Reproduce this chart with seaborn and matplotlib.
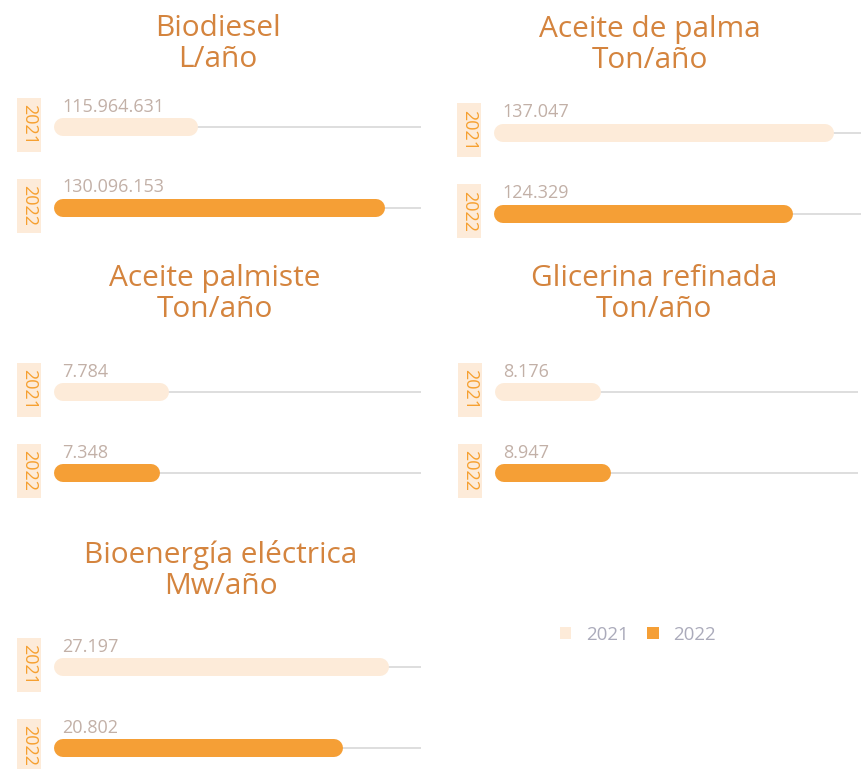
import numpy as np
import pandas as pd
import seaborn as sns
import matplotlib.pyplot as plt
from matplotlib.patches import Rectangle, Patch
from matplotlib.transforms import IdentityTransform

# ---------------- data ----------------
categories = ["Biodiesel", "Aceite de palma", "Aceite palmiste", "Glicerina refinada", "Bioenergía eléctrica"]
units = ["L/año", "Ton/año", "Ton/año", "Ton/año", "Mw/año"]
years = ["2021", "2022"]
values_2021 = [115964631, 137047, 7784, 8176, 27197]
values_2022 = [130096153, 124329, 7348, 8947, 20802]

# ---------------- style ----------------
sns.set_theme(style="white")
plt.rcParams["font.family"] = ["Open Sans", "DejaVu Sans"]

COL_2021 = "#FDEBD9"
COL_2022 = "#F59F36"
TITLE_COL = "#D4843E"
VALUE_COL = "#C2B0A7"
YEAR_COL = "#F6A030"
TRACK_COL = "#DEDEDE"
LEGEND_COL = "#ABABBB"

W, H = 867, 769
fig = plt.figure(figsize=(W / 100, H / 100), dpi=100)
fig.patch.set_facecolor("white")

# layout (pixels): axes left, axes right, bar centres, x range, title centre, title baselines
layout = [
    dict(x0=63, x1=421, yc=(127, 208), xlim=(106.443e6, 133.5e6), tx=218, tb=(36, 67)),
    dict(x0=503.3, x1=860.7, yc=(132.7, 213.7), xlim=(38.6e3, 147.9e3), tx=650, tb=(37, 68)),
    dict(x0=63.3, x1=421, yc=(392, 473), xlim=(3237, 20007), tx=215, tb=(286, 317)),
    dict(x0=504, x1=858, yc=(392, 473), xlim=(1158, 29296), tx=654, tb=(286, 317)),
    dict(x0=63.3, x1=421, yc=(667.3, 748.3), xlim=(-16873, 32855), tx=221, tb=(563, 594)),
]

BAR_PX = 18
lw_pt = BAR_PX * 72 / 100

for i, (cat, unit) in enumerate(zip(categories, units)):
    L = layout[i]
    sp = L["yc"][1] - L["yc"][0]
    top = L["yc"][0] - sp / 2
    bottom = L["yc"][1] + sp / 2
    ax = fig.add_axes([L["x0"] / W, 1 - bottom / H, (L["x1"] - L["x0"]) / W, (bottom - top) / H])
    df = pd.DataFrame({"year": years, "value": [values_2021[i], values_2022[i]]})
    sns.barplot(data=df, y="year", x="value", hue="year", order=years,
                palette=[COL_2021, COL_2022], orient="h", ax=ax, legend=False)
    ax.set_xlim(*L["xlim"])
    ax.set_ylim(1.5, -0.5)
    ax.set_axis_off()
    x_start = L["xlim"][0]
    for p, col in zip(ax.patches, [COL_2021, COL_2022]):
        p.set_visible(False)
        yc = p.get_y() + p.get_height() / 2
        val = p.get_width()
        ax.axhline(yc, color=TRACK_COL, lw=1.4, zorder=1)
        ax.plot([x_start, val], [yc, yc], color=col, lw=lw_pt,
                solid_capstyle="round", zorder=3, clip_on=False)
        label = f"{int(round(val)):,}".replace(",", ".")
        ax.annotate(label, xy=(x_start, yc), xytext=(-1, 15.5), textcoords="offset pixels",
                    ha="left", va="baseline", fontsize=13, color=VALUE_COL,
                    annotation_clip=False)
        yr = years[int(round(yc))]
        dx, dy = ax.transData.transform((x_start, yc))
        cx, cy = dx - 34, dy + 2.5
        fig.add_artist(Rectangle((cx - 12, cy - 27), 24, 54, transform=IdentityTransform(),
                                 facecolor=COL_2021, edgecolor="none", zorder=0))
        fig.text(cx, cy, yr, transform=IdentityTransform(), rotation=-90,
                 ha="center", va="center", fontsize=13, color=YEAR_COL, zorder=2)
    fig.text(L["tx"] / W, 1 - L["tb"][0] / H, cat, ha="center", va="baseline",
             fontsize=21.5, color=TITLE_COL, fontweight="normal")
    fig.text(L["tx"] / W, 1 - L["tb"][1] / H, unit, ha="center", va="baseline",
             fontsize=21.5, color=TITLE_COL, fontweight="normal")

handles = [Patch(facecolor=COL_2021, edgecolor="none"), Patch(facecolor=COL_2022, edgecolor="none")]
fig.legend(handles, years, loc="center", bbox_to_anchor=(638 / W, 1 - 635 / H), ncol=2,
           frameon=False, handlelength=0.62, handleheight=0.62, handletextpad=0.8,
           columnspacing=0.95, fontsize=13.5, labelcolor=LEGEND_COL)

fig.savefig("out.png", dpi=100, facecolor="white")
